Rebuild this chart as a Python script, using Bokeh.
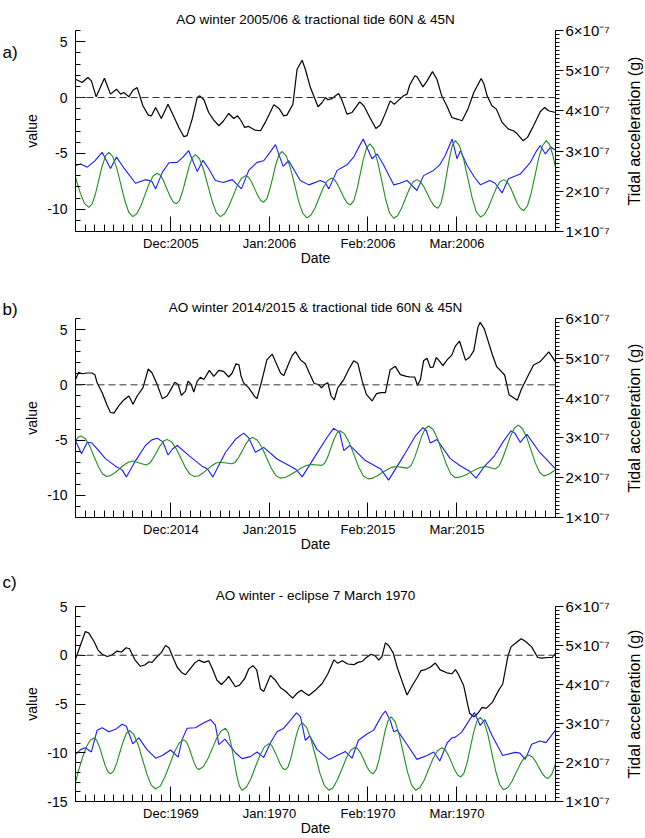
import math
from bokeh.plotting import figure
from bokeh.models import Range1d, LinearAxis, FixedTicker, Span, Label
from bokeh.layouts import column, row
from bokeh.embed import file_html
from bokeh.resources import INLINE

FONT = "Liberation Sans"

# ---------------- data ----------------
# x = days since 1 November; month starts Nov..Apr
month_start = [0, 30, 61, 92, 120, 151]
a_month_labels = ["Dec:2005", "Jan:2006", "Feb:2006", "Mar:2006"]
b_month_labels = ["Dec:2014", "Jan:2015", "Feb:2015", "Mar:2015"]
c_month_labels = ["Dec:1969", "Jan:1970", "Feb:1970", "Mar:1970"]

value_ticks_ab = [-10, -5, 0, 5]
value_ticks_c = [-15, -10, -5, 0, 5]
tide_ticks = [1, 2, 3, 4, 5, 6]            # units of 1e-7 g
tide_tick_labels = ["1×10⁻⁷", "2×10⁻⁷", "3×10⁻⁷", "4×10⁻⁷", "5×10⁻⁷", "6×10⁻⁷"]

titles = ["AO winter 2005/06 & tractional tide 60N & 45N",
          "AO winter 2014/2015 & tractional tide 60N & 45N",
          "AO winter - eclipse 7 March 1970"]
panel_letters = ["a)", "b)", "c)"]

# (day, value) pairs ------ panel a
a_ao = [(0, 1.64), (2.1, 1.34), (3.9, 1.79), (5, 1.49), (6.5, 0.06), (9.1, 1.73), (11, 0.3), (12.9, 0.74),
        (14.2, 0.3), (15.2, 0.45), (16.8, 0.06), (18.1, 0.65), (19.4, 0.89), (21.2, -0.74), (22.9, -1.58),
        (23.9, -1.64), (25.2, -0.89), (27, -1.88), (29.1, -0.6), (30.6, -1.49), (32.5, -2.68), (34.1, -3.51),
        (35.1, -3.42), (36.7, -1.93), (38.3, 0), (39.1, 0.15), (40.4, -0.2), (41.9, -1.34), (43.5, -2.02),
        (45.1, -2.53), (46.6, -2.08), (48.2, -1.43), (49.8, -1.88), (51, -1.64), (52.1, -2.08), (53.2, -2.68),
        (54.5, -2.59), (56.4, -2.92), (58.2, -2.98), (59.7, -2.23), (62.4, -0.65), (64, -0.98), (65.5, -1.64),
        (66.5, -1.58), (68.4, -0.6), (69.7, 2.53), (71.3, 3.33), (72.3, 2.53), (73.9, 0.89), (76.3, -0.83),
        (77.6, -0.45), (78.6, 0), (79.4, -0.2), (80.7, -0.1), (81.8, 0.15), (82.8, 0.36), (83.9, -0.3),
        (85.4, -1.49), (87, -1.34), (89.4, -0.39), (90.7, -0.74), (92.6, -1.79), (94.5, -2.77), (95.9, -2.47),
        (97.5, -1.4), (99, -0.3), (100.3, -0.6), (101.4, -0.3), (103.2, 0.15), (104.3, 0.3), (105.1, 1.1),
        (106.7, 1.93), (107.4, 1.88), (109.3, 0.95), (110.6, 1.49), (112.3, 2.32), (113.7, 1.64), (115.2, 0.15),
        (116.8, -0.74), (118.4, -1.79), (120, -1.93), (121.6, -2.08), (123.5, -1.0), (125.3, 0.45), (127.6, 1.7),
        (128.5, 1.2), (129.5, 0.15), (131, -0.74), (132.4, -1.04), (134.2, -2.23), (136.2, -2.83), (137.8, -2.98),
        (139, -3.27), (140.8, -3.87), (142.2, -3.57), (144.1, -2.53), (146.2, -1.28), (147.6, -0.89),
        (148.8, -1.19), (151, -1.34)]
a_t60 = [(0, 2.64), (1.6, 2.68), (3.7, 2.6), (6, 2.75), (8.4, 2.97), (11, 2.57), (12.9, 2.85), (15.5, 2.55),
         (18.9, 2.2), (22, 2.29), (24, 2.25), (25.2, 2.06), (27.3, 2.47), (29.4, 2.71), (32, 2.72), (33.8, 2.85),
         (35.6, 3.01), (38.3, 2.49), (40.1, 2.77), (42, 2.55), (44, 2.27), (46.5, 2.22), (49.3, 2.29), (52.2, 2.06),
         (54.5, 2.52), (57.1, 2.72), (59.2, 2.76), (61, 2.95), (62.9, 3.16), (65.3, 2.62), (67.1, 2.76), (69, 2.5),
         (70.7, 2.27), (73.4, 2.16), (77, 2.27), (78.5, 2.22), (79.7, 2.06), (82.3, 2.52), (85.4, 2.66),
         (87.5, 2.85), (89, 3.08), (90.5, 3.3), (93.3, 2.81), (94.9, 2.93), (97, 2.64), (100.1, 2.16), (102, 2.2),
         (104.3, 2.27), (107.4, 2.02), (109.5, 2.39), (112.6, 2.52), (114.5, 2.65), (116.3, 2.89), (118.5, 3.3),
         (120, 2.81), (121.1, 3.01), (123.2, 2.64), (125.5, 2.35), (127.4, 2.16), (130.3, 2.27), (132, 2.2),
         (134.2, 1.96), (136.2, 2.31), (139.9, 2.43), (143.1, 2.72), (145, 3.0), (146.2, 3.14), (147.8, 2.93),
         (149.5, 3.1), (151, 3.02)]
a_t45 = [(0, 2.35), (1.4, 1.98), (2.8, 1.70), (4.2, 1.60), (5.25, 1.69), (6.3, 1.94), (7.35, 2.29), (8.4, 2.63),
         (9.45, 2.88), (10.5, 2.97), (11.75, 2.86), (13, 2.57), (14.25, 2.17), (15.5, 1.77), (16.75, 1.48),
         (18, 1.37), (19.28, 1.44), (20.57, 1.64), (21.85, 1.91), (23.13, 2.18), (24.42, 2.38), (25.7, 2.45),
         (26.7, 2.40), (27.7, 2.26), (28.7, 2.07), (29.7, 1.88), (30.7, 1.74), (31.7, 1.69), (32.7, 1.77),
         (33.7, 2.0), (34.7, 2.3), (35.7, 2.61), (36.7, 2.83), (37.7, 2.91), (39.02, 2.81), (40.33, 2.53),
         (41.65, 2.14), (42.97, 1.76), (44.28, 1.47), (45.6, 1.37), (46.92, 1.44), (48.23, 1.63), (49.55, 1.88),
         (50.87, 2.14), (52.18, 2.32), (53.5, 2.39), (54.45, 2.35), (55.4, 2.23), (56.35, 2.06), (57.3, 1.90),
         (58.25, 1.77), (59.2, 1.73), (60.17, 1.81), (61.13, 2.05), (62.1, 2.36), (63.07, 2.68), (64.03, 2.91),
         (65, 2.99), (66.3, 2.88), (67.6, 2.58), (68.9, 2.17), (70.2, 1.75), (71.5, 1.45), (72.8, 1.34),
         (74.08, 1.41), (75.37, 1.59), (76.65, 1.84), (77.93, 2.08), (79.22, 2.26), (80.5, 2.33), (81.5, 2.29),
         (82.5, 2.16), (83.5, 2.0), (84.5, 1.83), (85.5, 1.71), (86.5, 1.66), (87.52, 1.76), (88.53, 2.04),
         (89.55, 2.42), (90.57, 2.80), (91.58, 3.08), (92.6, 3.18), (93.85, 3.06), (95.1, 2.72), (96.35, 2.26),
         (97.6, 1.79), (98.85, 1.45), (100.1, 1.33), (101.32, 1.39), (102.53, 1.57), (103.75, 1.81),
         (104.97, 2.05), (106.18, 2.23), (107.4, 2.29), (108.5, 2.24), (109.6, 2.11), (110.7, 1.94), (111.8, 1.76),
         (112.9, 1.63), (114, 1.58), (114.92, 1.69), (115.83, 2.0), (116.75, 2.42), (117.67, 2.84), (118.58, 3.15),
         (119.5, 3.26), (120.82, 3.13), (122.13, 2.79), (123.45, 2.31), (124.77, 1.84), (126.08, 1.49),
         (127.4, 1.36), (128.62, 1.42), (129.83, 1.59), (131.05, 1.83), (132.27, 2.06), (133.48, 2.23),
         (134.7, 2.29), (135.75, 2.24), (136.8, 2.10), (137.85, 1.91), (138.9, 1.71), (139.95, 1.57), (141, 1.52),
         (142.18, 1.64), (143.37, 1.96), (144.55, 2.39), (145.73, 2.83), (146.92, 3.14), (148.1, 3.26),
         (149.1, 3.17), (150.1, 2.92), (151, 2.60)]

# ------ panel b
b_ao = [(0, 0.48), (1, 1.13), (2.1, 1.0), (3.7, 1.07), (5.2, 1.07), (6.1, 0.92), (6.8, 0.18), (8.4, -0.71),
        (10, -1.9), (11, -2.5), (12.1, -2.56), (13.6, -1.9), (15.2, -1.37), (16.8, -1.01), (18.1, -1.76),
        (19.4, -1.01), (21.2, -0.27), (22.9, 1.43), (24.1, 1.07), (25.7, 0.03), (27.3, -1.25), (28.8, -1.01),
        (29.9, -0.48), (31.2, 0.24), (32.3, 0.03), (33.3, -0.95), (34.6, -0.57), (35.4, 0.33), (36.4, 0.03),
        (37.2, -0.65), (38.3, 0.33), (39.3, 0.68), (40.4, 0.48), (42.1, 1.31), (43.5, 0.77), (45.1, 1.31),
        (46.6, 1.22), (48.2, 0.71), (49.3, 1.07), (50.5, 1.9), (51.4, 1.82), (52.1, 0.77), (52.9, 0.18),
        (54.5, -0.27), (56.4, -1.07), (57.1, -1.25), (58.7, 0.48), (60.2, 2.26), (61.9, 2.77), (62.9, 2.11),
        (64.5, 1.07), (65.5, 0.83), (67.1, 1.96), (68.1, 2.62), (69.2, 3.0), (70.8, 2.26), (72.3, 1.9),
        (73.7, 0.98), (75.1, 0.12), (76.5, 0.03), (77.4, -0.27), (78.3, 0.03), (79.4, 0.18), (80.4, -1.01),
        (81.4, -1.37), (82.5, -0.27), (84.4, 0.48), (85.9, 1.37), (87.5, 2.17), (88.8, 1.96), (90.2, 0.33),
        (91.5, -0.86), (93.3, -1.46), (94.7, -0.8), (96.1, -0.71), (97.5, -0.71), (99, 1.37), (100.6, 1.67),
        (102.2, 0.92), (104.1, 0.77), (105.3, 0.71), (106.7, 0.71), (107.6, -0.06), (108.5, 0.48), (109.5, 2.17),
        (110.6, 2.41), (111.6, 1.58), (112.5, 1.61), (113.5, 2.47), (114.2, 2.26), (115.6, 1.73), (116.9, 2.26),
        (118.4, 2.71), (119.5, 3.51), (120.8, 3.96), (122.7, 2.23), (124, 2.5), (125.3, 3.1), (126.6, 5.2),
        (127.3, 5.65), (128.6, 5.06), (131.2, 2.68), (132.5, 1.64), (135, 0.89), (136.4, -0.89), (139, -1.4),
        (140.2, -0.45), (142.2, 0.74), (144.1, 1.79), (146.1, 2.08), (148.9, 2.98), (151, 2.08)]
b_t60 = [(0, 2.93), (1.9, 2.6), (3.7, 2.89), (5.2, 2.87), (7.3, 2.68), (9.4, 2.48), (12.6, 2.29), (14.7, 2.19),
         (16, 2.02), (18.9, 2.43), (22, 2.81), (24, 2.95), (25.7, 2.99), (27.5, 2.9), (29.1, 2.57), (30.5, 2.72),
         (32, 2.81), (35.6, 2.56), (39.8, 2.29), (41.5, 2.22), (43.2, 2.02), (47.2, 2.64), (50.5, 2.98),
         (52.9, 3.12), (54.5, 3.0), (56.6, 2.64), (59.2, 2.76), (63.4, 2.47), (67.6, 2.29), (69.5, 2.2),
         (71.3, 2.02), (74.9, 2.48), (79.1, 3.01), (81.2, 3.24), (83.1, 3.14), (84.4, 2.68), (86.3, 2.81),
         (91.2, 2.43), (96, 2.22), (98.5, 1.94), (103.3, 2.56), (107, 3.06), (109.3, 3.26), (110.4, 3.18),
         (111.6, 2.87), (113.7, 2.96), (117.9, 2.48), (121, 2.3), (124, 2.16), (126, 1.99), (128.8, 2.3),
         (131.8, 2.55), (134.5, 2.9), (137, 3.18), (138.2, 3.12), (139.9, 2.89), (142, 3.09), (146, 2.64),
         (151, 2.22)]
b_t45 = [(0, 2.93), (0.9, 3.02), (1.8, 3.05), (3.13, 2.98), (4.47, 2.80), (5.8, 2.54), (7.13, 2.29), (8.47, 2.10),
         (9.8, 2.03), (11.17, 2.06), (12.53, 2.13), (13.9, 2.23), (15.27, 2.32), (16.63, 2.39), (18, 2.42),
         (20.1, 2.37), (22.2, 2.32), (23.3, 2.36), (24.4, 2.48), (25.5, 2.64), (26.6, 2.80), (27.7, 2.92),
         (28.8, 2.96), (30.23, 2.90), (31.67, 2.73), (33.1, 2.50), (34.53, 2.26), (35.97, 2.09), (37.4, 2.03),
         (38.77, 2.05), (40.13, 2.12), (41.5, 2.21), (42.87, 2.30), (44.23, 2.37), (45.6, 2.39), (47.4, 2.37),
         (49.2, 2.35), (50.3, 2.39), (51.4, 2.52), (52.5, 2.68), (53.6, 2.85), (54.7, 2.97), (55.8, 3.01),
         (57.23, 2.94), (58.67, 2.76), (60.1, 2.50), (61.53, 2.25), (62.97, 2.06), (64.4, 1.99), (66.08, 2.01),
         (67.77, 2.08), (69.45, 2.16), (71.13, 2.25), (72.82, 2.31), (74.5, 2.33), (76, 2.32), (77.5, 2.31),
         (78.45, 2.37), (79.4, 2.53), (80.35, 2.75), (81.3, 2.96), (82.25, 3.12), (83.2, 3.18), (84.67, 3.10),
         (86.13, 2.88), (87.6, 2.58), (89.07, 2.27), (90.53, 2.05), (92, 1.97), (93.5, 1.99), (95, 2.05),
         (96.5, 2.13), (98, 2.20), (99.5, 2.26), (101, 2.28), (102.75, 2.26), (104.5, 2.24), (105.6, 2.31),
         (106.7, 2.51), (107.8, 2.77), (108.9, 3.04), (110, 3.23), (111.1, 3.3), (112.5, 3.21), (113.9, 2.98),
         (115.3, 2.65), (116.7, 2.33), (118.1, 2.09), (119.5, 2.0), (121.12, 2.02), (122.73, 2.07), (124.35, 2.14),
         (125.97, 2.21), (127.58, 2.26), (129.2, 2.28), (130.6, 2.25), (132, 2.22), (133.22, 2.29), (134.43, 2.50),
         (135.65, 2.77), (136.87, 3.05), (138.08, 3.25), (139.3, 3.32), (140.65, 3.23), (142, 3.0), (143.35, 2.68),
         (144.7, 2.36), (146.05, 2.13), (147.4, 2.04), (149.2, 2.1), (151, 2.2)]

# ------ panel c
c_ao = [(0, -0.4), (3.1, 2.43), (4.2, 2.27), (5.8, 1.43), (7.1, 0.53), (8.4, 0.1), (10, -0.13), (11.3, 0),
        (13.1, 0.43), (14.5, 0.33), (15.9, 0.77), (17, 0.67), (18.7, -0.47), (20.4, -1.13), (21.8, -1.0),
        (23.1, -0.67), (24.1, -0.73), (25.7, -0.13), (27, 0.27), (28.3, 1.0), (29.4, 0.77), (30.9, -0.4),
        (32, -1.23), (33.5, -1.8), (34.6, -2.0), (35.6, -1.57), (37.5, -0.8), (38.8, -0.5), (40.4, -0.73),
        (41.9, -0.57), (43, -1.33), (44.5, -2.57), (45.9, -3.0), (47.2, -2.57), (48.2, -2.17), (49.3, -2.73),
        (50.3, -3.23), (51.6, -3.07), (53.2, -2.4), (54.5, -1.4), (55.8, -1.07), (57, -1.5), (58.2, -3.47),
        (59.2, -3.73), (61.3, -2.07), (62.9, -2.57), (64.5, -3.33), (66, -3.67), (68.3, -4.4), (69.7, -3.9),
        (71, -3.6), (72.3, -3.9), (73.4, -4.13), (75.5, -3.57), (77.6, -2.9), (79.4, -1.9), (81.3, -0.47),
        (82.5, -0.83), (83.9, -0.57), (85.7, -0.9), (87.6, -0.97), (88.8, -0.73), (90.2, -0.63), (91.5, -0.23),
        (93, 0.1), (94.3, -0.07), (95.4, -0.5), (96.4, -0.13), (97.5, 1.27), (98.5, 1.0), (99.9, 0.27),
        (101.2, -1.23), (102.8, -2.73), (104.3, -4.07), (105.9, -3.13), (107.4, -2.33), (108.7, -1.57),
        (110.1, -1.47), (111.6, -1.23), (113.2, -0.8), (114.7, -1.5), (116.8, -1.8), (118.4, -1.9),
        (119.5, -1.47), (120.2, -1.8), (122.1, -3.1), (123.4, -5.1), (124, -5.95), (125.3, -6.3), (126.6, -5.95),
        (127.9, -5.35), (129.2, -5.45), (131.2, -4.8), (133.1, -3.6), (134.4, -2.95), (136, -0.13), (137, 0.86),
        (138.3, 1.2), (140.2, 1.7), (141.5, 1.43), (143.5, 0.86), (145.4, -0.23), (146.7, -0.3), (148.7, -0.23),
        (150, -0.23), (151, 0.2)]
c_t60 = [(0, 2.21), (1.6, 2.33), (3.1, 2.38), (5, 2.27), (6.8, 2.83), (8.4, 2.89), (10.5, 2.79), (12.6, 2.85),
         (14.7, 2.98), (16, 2.93), (18, 2.48), (19.9, 2.63), (22.5, 2.33), (25.2, 2.11), (27.3, 2.18), (29.9, 2.32),
         (32.3, 2.14), (33.5, 2.58), (35.1, 2.88), (37.7, 2.89), (40.4, 3.02), (42.5, 3.1), (44, 2.96), (45.1, 2.46),
         (47, 2.6), (50.3, 2.25), (52.4, 2.1), (55, 2.15), (57.1, 2.27), (59.2, 2.13), (61.3, 2.5), (63.4, 2.79),
         (65.5, 2.88), (67.6, 3.08), (69.5, 3.27), (70.8, 3.17), (72.3, 2.57), (73.7, 2.68), (76, 2.33),
         (79.7, 2.08), (82.3, 2.18), (84.9, 2.28), (87, 2.11), (89, 2.57), (91.7, 2.73), (93.8, 2.83), (96.4, 3.21),
         (97.5, 3.32), (99, 3.08), (100.1, 2.79), (101.2, 2.83), (104.3, 2.46), (107.4, 2.08), (110.6, 2.18),
         (112.7, 2.27), (114.6, 2.04), (116.9, 2.5), (118.4, 2.63), (119.5, 2.65), (121.5, 2.78), (124, 3.1),
         (125.5, 3.28), (127.3, 2.95), (128.8, 3.1), (131, 2.7), (134.4, 2.18), (138.3, 2.26), (139.8, 2.24),
         (141.5, 2.08), (143.5, 2.47), (146.1, 2.55), (148, 2.51), (151, 2.83)]
c_t45 = [(0, 1.5), (1.16, 1.85), (2.32, 2.16), (3.48, 2.41), (4.64, 2.57), (5.8, 2.63), (6.67, 2.57), (7.53, 2.40),
         (8.4, 2.17), (9.27, 1.94), (10.13, 1.77), (11, 1.71), (12, 1.78), (13, 1.99), (14, 2.27), (15, 2.54),
         (16, 2.75), (17, 2.82), (18.37, 2.72), (19.73, 2.45), (21.1, 2.07), (22.47, 1.70), (23.83, 1.42),
         (25.2, 1.32), (26.68, 1.40), (28.17, 1.64), (29.65, 1.95), (31.13, 2.27), (32.62, 2.50), (34.1, 2.58),
         (34.88, 2.53), (35.67, 2.39), (36.45, 2.20), (37.23, 2.01), (38.02, 1.87), (38.8, 1.82), (40.2, 1.89),
         (41.6, 2.09), (43, 2.35), (44.4, 2.62), (45.8, 2.81), (47.2, 2.88), (48.07, 2.77), (48.93, 2.48),
         (49.8, 2.09), (50.67, 1.69), (51.53, 1.40), (52.4, 1.29), (53.8, 1.37), (55.2, 1.59), (56.6, 1.89),
         (58, 2.18), (59.4, 2.40), (60.8, 2.48), (61.67, 2.44), (62.53, 2.31), (63.4, 2.15), (64.27, 1.98),
         (65.13, 1.86), (66, 1.81), (66.88, 1.89), (67.77, 2.11), (68.65, 2.42), (69.53, 2.72), (70.42, 2.94),
         (71.3, 3.02), (72.7, 2.90), (74.1, 2.59), (75.5, 2.16), (76.9, 1.72), (78.3, 1.41), (79.7, 1.29),
         (81.08, 1.36), (82.47, 1.57), (83.85, 1.84), (85.23, 2.12), (86.62, 2.32), (88, 2.39), (88.93, 2.34),
         (89.87, 2.22), (90.8, 2.05), (91.73, 1.88), (92.67, 1.76), (93.6, 1.71), (94.55, 1.81), (95.5, 2.08),
         (96.45, 2.44), (97.4, 2.81), (98.35, 3.07), (99.3, 3.17), (100.58, 3.04), (101.87, 2.70), (103.15, 2.23),
         (104.43, 1.76), (105.72, 1.42), (107, 1.29), (108.38, 1.36), (109.77, 1.56), (111.15, 1.84),
         (112.53, 2.11), (113.92, 2.31), (115.3, 2.38), (116.28, 2.33), (117.27, 2.19), (118.25, 2.01),
         (119.23, 1.82), (120.22, 1.68), (121.2, 1.63), (122.22, 1.73), (123.23, 2.01), (124.25, 2.40),
         (125.27, 2.78), (126.28, 3.06), (127.3, 3.16), (128.53, 3.04), (129.77, 2.70), (131, 2.23), (132.23, 1.77),
         (133.47, 1.43), (134.7, 1.3), (136.02, 1.36), (137.33, 1.52), (138.65, 1.75), (139.97, 1.97),
         (141.28, 2.13), (142.6, 2.19), (143.62, 2.15), (144.63, 2.04), (145.65, 1.89), (146.67, 1.74),
         (147.68, 1.63), (148.7, 1.59), (149.85, 1.70), (151, 1.97)]


# ---------------- layout constants ----------------
LEFT_STRIP = 19     # strip holding the panel letter
RIGHT_STRIP = 20    # strip holding the right axis title
MAIN_W = 645 - LEFT_STRIP - RIGHT_STRIP
BORDER_L = 56
FRAME_W = 480
BORDER_R = MAIN_W - BORDER_L - FRAME_W


# ---------------- helpers ----------------
def unzip(pairs):
    return [p[0] for p in pairs], [p[1] for p in pairs]


def minor_month_ticks():
    out = []
    for s, e in zip(month_start[:-1], month_start[1:]):
        for k in range(1, 10):
            out.append(s + (e - s) * k / 10.0)
    return out


def style_axis(ax, label_size):
    ax.axis_line_color = "black"
    ax.axis_line_width = 1
    ax.major_tick_line_color = "black"
    ax.minor_tick_line_color = "black"
    ax.major_label_text_font = FONT
    ax.major_label_text_font_size = label_size
    ax.major_label_text_color = "black"
    ax.axis_label_text_font = FONT
    ax.axis_label_text_font_size = "14px"
    ax.axis_label_text_font_style = "normal"
    ax.axis_label_text_color = "black"


def strip(width, height, vmin, vmax, labels, title=None, title_standoff=0):
    """A narrow axis-less figure; its frame is aligned with the neighbouring panel's frame."""
    s = figure(width=width, height=height, x_range=Range1d(0, width), y_range=Range1d(vmin, vmax),
               x_axis_location=None, y_axis_location=None, toolbar_location=None,
               output_backend="svg", min_border_left=0, min_border_right=0,
               min_border_top=0, min_border_bottom=0, title=title)
    s.outline_line_color = None
    s.grid.visible = False
    s.background_fill_color = "white"
    s.border_fill_color = "white"
    if title:
        s.title.align = "left"
        s.title.offset = 2
        s.title.text_font = FONT
        s.title.text_font_size = "17px"
        s.title.text_font_style = "normal"
        s.title.text_color = "black"
        s.title.standoff = title_standoff
    for lab in labels:
        s.add_layout(lab)
    return s


def make_panel(title, month_labels, ao, t60, t45, vmin, vmax, vticks,
               height, border_top, border_bottom, letter_label, letter_title, letter_standoff):
    p = figure(width=MAIN_W, height=height,
               x_range=Range1d(month_start[0], month_start[-1]),
               y_range=Range1d(vmin, vmax),
               output_backend="svg", toolbar_location=None,
               min_border_left=BORDER_L, min_border_right=BORDER_R, min_border_top=border_top,
               min_border_bottom=border_bottom, title=title)
    p.outline_line_color = None
    p.grid.visible = False
    p.background_fill_color = "white"
    p.border_fill_color = "white"
    p.title.align = "center"
    p.title.text_font = FONT
    p.title.text_font_size = "13.5px"
    p.title.text_font_style = "normal"
    p.title.text_color = "black"
    p.title.standoff = 8

    # left axis
    yl = p.yaxis[0]
    style_axis(yl, "14px")
    yl.ticker = FixedTicker(ticks=vticks, minor_ticks=list(range(vmin, vmax + 1)))
    yl.major_label_overrides = {t: str(t) for t in vticks}
    yl.major_tick_in = 10
    yl.major_tick_out = 0
    yl.minor_tick_in = 5
    yl.minor_tick_out = 0
    yl.major_label_standoff = 8
    yl.axis_label = "value"
    yl.axis_label_standoff = 4

    # bottom axis
    xb = p.xaxis[0]
    style_axis(xb, "13px")
    xb.ticker = FixedTicker(ticks=month_start[1:-1], minor_ticks=minor_month_ticks())
    xb.major_label_overrides = dict(zip(month_start[1:-1], month_labels))
    xb.major_tick_in = 15
    xb.major_tick_out = 0
    xb.minor_tick_in = 7
    xb.minor_tick_out = 0
    xb.major_label_standoff = 4
    xb.axis_label = "Date"
    xb.axis_label_standoff = -4

    # right axis : tidal acceleration
    p.extra_y_ranges = {"tide": Range1d(tide_ticks[0], tide_ticks[-1])}
    yr = LinearAxis(y_range_name="tide")
    style_axis(yr, "15px")
    yr.ticker = FixedTicker(ticks=tide_ticks,
                            minor_ticks=[tide_ticks[0] + k / 10.0 for k in range(0, 51)])
    yr.major_label_overrides = dict(zip(tide_ticks, tide_tick_labels))
    yr.major_tick_in = 0
    yr.major_tick_out = 8
    yr.minor_tick_in = 0
    yr.minor_tick_out = 4
    yr.major_label_standoff = 2
    p.add_layout(yr, "right")

    ax, ay = unzip(ao)
    p.line(ax, ay, line_color="black", line_width=1.2)
    p.add_layout(Span(location=0, dimension="width", line_color="#333333",
                      line_dash="7 4", line_width=1))
    bx, by = unzip(t60)
    p.line(bx, by, y_range_name="tide", line_color="#1a1aff", line_width=1.1)
    gx, gy = unzip(t45)
    p.line(gx, gy, y_range_name="tide", line_color="#228b22", line_width=1.1)

    left = strip(LEFT_STRIP, height, vmin, vmax, letter_label, letter_title, letter_standoff)
    right = strip(RIGHT_STRIP, height, vmin, vmax,
                  [Label(x=9, y=(vmin + vmax) / 2.0, text="Tidal acceleration (g)", angle=math.pi / 2,
                         text_font=FONT, text_font_size="16px", text_align="center",
                         text_baseline="middle", text_color="black")])
    return row(left, p, right)


def letter_label(text, y):
    return [Label(x=2, y=y, text=text, text_font=FONT, text_font_size="17px",
                  text_baseline="middle", text_align="left", text_color="black")]


ra = make_panel(titles[0], a_month_labels, a_ao, a_t60, a_t45, -12, 6, value_ticks_ab, 293, 30, 62,
                letter_label(panel_letters[0], 4.0), None, 0)
rb = make_panel(titles[1], b_month_labels, b_ao, b_t60, b_t45, -12, 6, value_ticks_ab, 261, 25, 35,
                [], panel_letters[1], -1)
rc = make_panel(titles[2], c_month_labels, c_ao, c_t60, c_t45, -15, 5, value_ticks_c, 284, 52, 32,
                [], panel_letters[2], 30)

layout = column(ra, rb, rc)
open("out.html", "w").write(file_html(layout, INLINE, "AO winter"))
